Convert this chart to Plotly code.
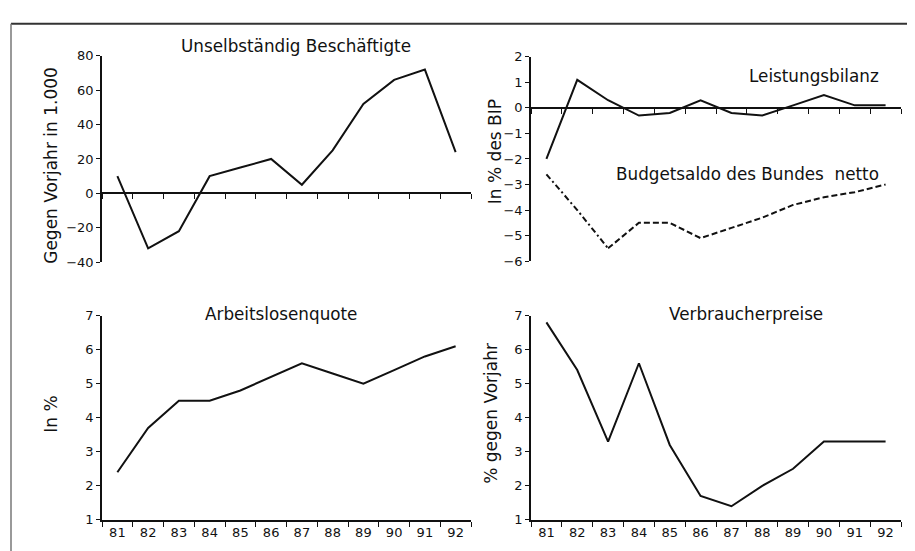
import plotly.graph_objects as go

W, H = 915, 551

years = ["81", "82", "83", "84", "85", "86", "87", "88", "89", "90", "91", "92"]
beschaeftigte = [10, -32, -22, 10, 15, 20, 5, 25, 52, 66, 72, 24]
leistungsbilanz = [-2.0, 1.1, 0.3, -0.3, -0.2, 0.3, -0.2, -0.3, 0.1, 0.5, 0.1, 0.1]
budgetsaldo = [-2.6, -4.0, -5.5, -4.5, -4.5, -5.1, -4.7, -4.3, -3.8, -3.5, -3.3, -3.0]
arbeitslosenquote = [2.4, 3.7, 4.5, 4.5, 4.8, 5.2, 5.6, 5.3, 5.0, 5.4, 5.8, 6.1]
verbraucherpreise = [6.8, 5.4, 3.3, 5.6, 3.2, 1.7, 1.4, 2.0, 2.5, 3.3, 3.3, 3.3]

FONT = "DejaVu Sans"
INK = "#111111"


def px(x):
    return x / W


def py(y):
    return 1 - y / H


# domains (in paper units)
xl = [px(94), px(463)]
xr = [px(523), px(893)]
ytl = [py(254), py(42)]
ytr = [py(253), py(43)]
yb = [py(519), py(309)]

rng_tl = [-40, 80]
rng_tr = [-6, 2]
pos_tl = ytl[0] + (0 - rng_tl[0]) / (rng_tl[1] - rng_tl[0]) * (ytl[1] - ytl[0])
pos_tr = ytr[0] + (0 - rng_tr[0]) / (rng_tr[1] - rng_tr[0]) * (ytr[1] - ytr[0])

fig = go.Figure()
line = dict(color=INK, width=2)
fig.add_trace(go.Scatter(x=years, y=beschaeftigte, mode="lines", line=line, xaxis="x", yaxis="y"))
fig.add_trace(go.Scatter(x=years, y=leistungsbilanz, mode="lines", line=line, xaxis="x2", yaxis="y2"))
fig.add_trace(go.Scatter(x=years[:3], y=budgetsaldo[:3], mode="lines",
                         line=dict(color=INK, width=2, dash="6px,3px,2px,3px"), xaxis="x2", yaxis="y2"))
fig.add_trace(go.Scatter(x=years[2:], y=budgetsaldo[2:], mode="lines",
                         line=dict(color=INK, width=2, dash="6px,3px"), xaxis="x2", yaxis="y2"))
fig.add_trace(go.Scatter(x=years, y=arbeitslosenquote, mode="lines", line=line, xaxis="x3", yaxis="y3"))
fig.add_trace(go.Scatter(x=years, y=verbraucherpreise, mode="lines", line=line, xaxis="x4", yaxis="y4"))


def xax(domain, anchor, position=None, labels=False):
    d = dict(domain=domain, type="category", categoryorder="array", categoryarray=years,
             range=[-0.5, 11.5], tickson="boundaries", ticks="outside", ticklen=5,
             tickwidth=1.2, tickcolor=INK, showline=True, linecolor=INK, linewidth=1.5,
             showgrid=False, zeroline=False, showticklabels=labels,
             tickfont=dict(family=FONT, size=13, color=INK))
    if position is not None:
        d.update(anchor="free", position=position)
    else:
        d.update(anchor=anchor)
    return d


def yax(domain, anchor, rng, dtick):
    return dict(domain=domain, anchor=anchor, range=rng, dtick=dtick, tick0=rng[0],
                ticks="outside", ticklen=4, tickwidth=1.2, tickcolor=INK,
                showline=True, linecolor=INK, linewidth=1.5, showgrid=False,
                zeroline=False, tickfont=dict(family=FONT, size=13, color=INK))


fig.update_layout(
    width=W, height=H, margin=dict(l=0, r=0, t=0, b=0),
    paper_bgcolor="white", plot_bgcolor="rgba(0,0,0,0)", showlegend=False,
    font=dict(family=FONT, color=INK),
    xaxis=xax(xl, "y", position=pos_tl),
    yaxis=yax(ytl, "x", rng_tl, 20),
    xaxis2=xax(xr, "y2", position=pos_tr),
    yaxis2=yax(ytr, "x2", rng_tr, 1),
    xaxis3=xax(xl, "y3", labels=True),
    yaxis3=yax(yb, "x3", [1, 7], 1),
    xaxis4=xax(xr, "y4", labels=True),
    yaxis4=yax(yb, "x4", [1, 7], 1),
)

ann = []


def text(t, x, y, size=16.8, angle=0, xanchor="center"):
    ann.append(dict(text=t, x=px(x), y=py(y), xref="paper", yref="paper", showarrow=False,
                    textangle=angle, xanchor=xanchor, yanchor="middle",
                    font=dict(family=FONT, size=size, color=INK)))


text("Unselbständig Beschäftigte", 288, 32)
text("Leistungsbilanz", 873, 63, xanchor="right")
text("Budgetsaldo des Bundes\u00a0 netto", 873, 163, xanchor="right")
text("Arbeitslosenquote", 273, 307)
text("Verbraucherpreise", 738, 307)
text("Gegen Vorjahr in 1.000", 43, 155, size=17, angle=-90)
text("In % des BIP", 487, 141, size=17, angle=-90)
text("In %", 43, 411, size=17, angle=-90)
text("% gegen Vorjahr", 483, 410, size=17, angle=-90)
fig.update_layout(annotations=ann)

fig.update_layout(shapes=[
    dict(type="line", xref="paper", yref="paper", x0=px(3), x1=1, y0=py(9), y1=py(9),
         line=dict(color="#333333", width=2)),
    dict(type="line", xref="paper", yref="paper", x0=px(3), x1=px(3), y0=py(9), y1=0,
         line=dict(color="#777777", width=1.5)),
])

fig.write_html("out.html")
